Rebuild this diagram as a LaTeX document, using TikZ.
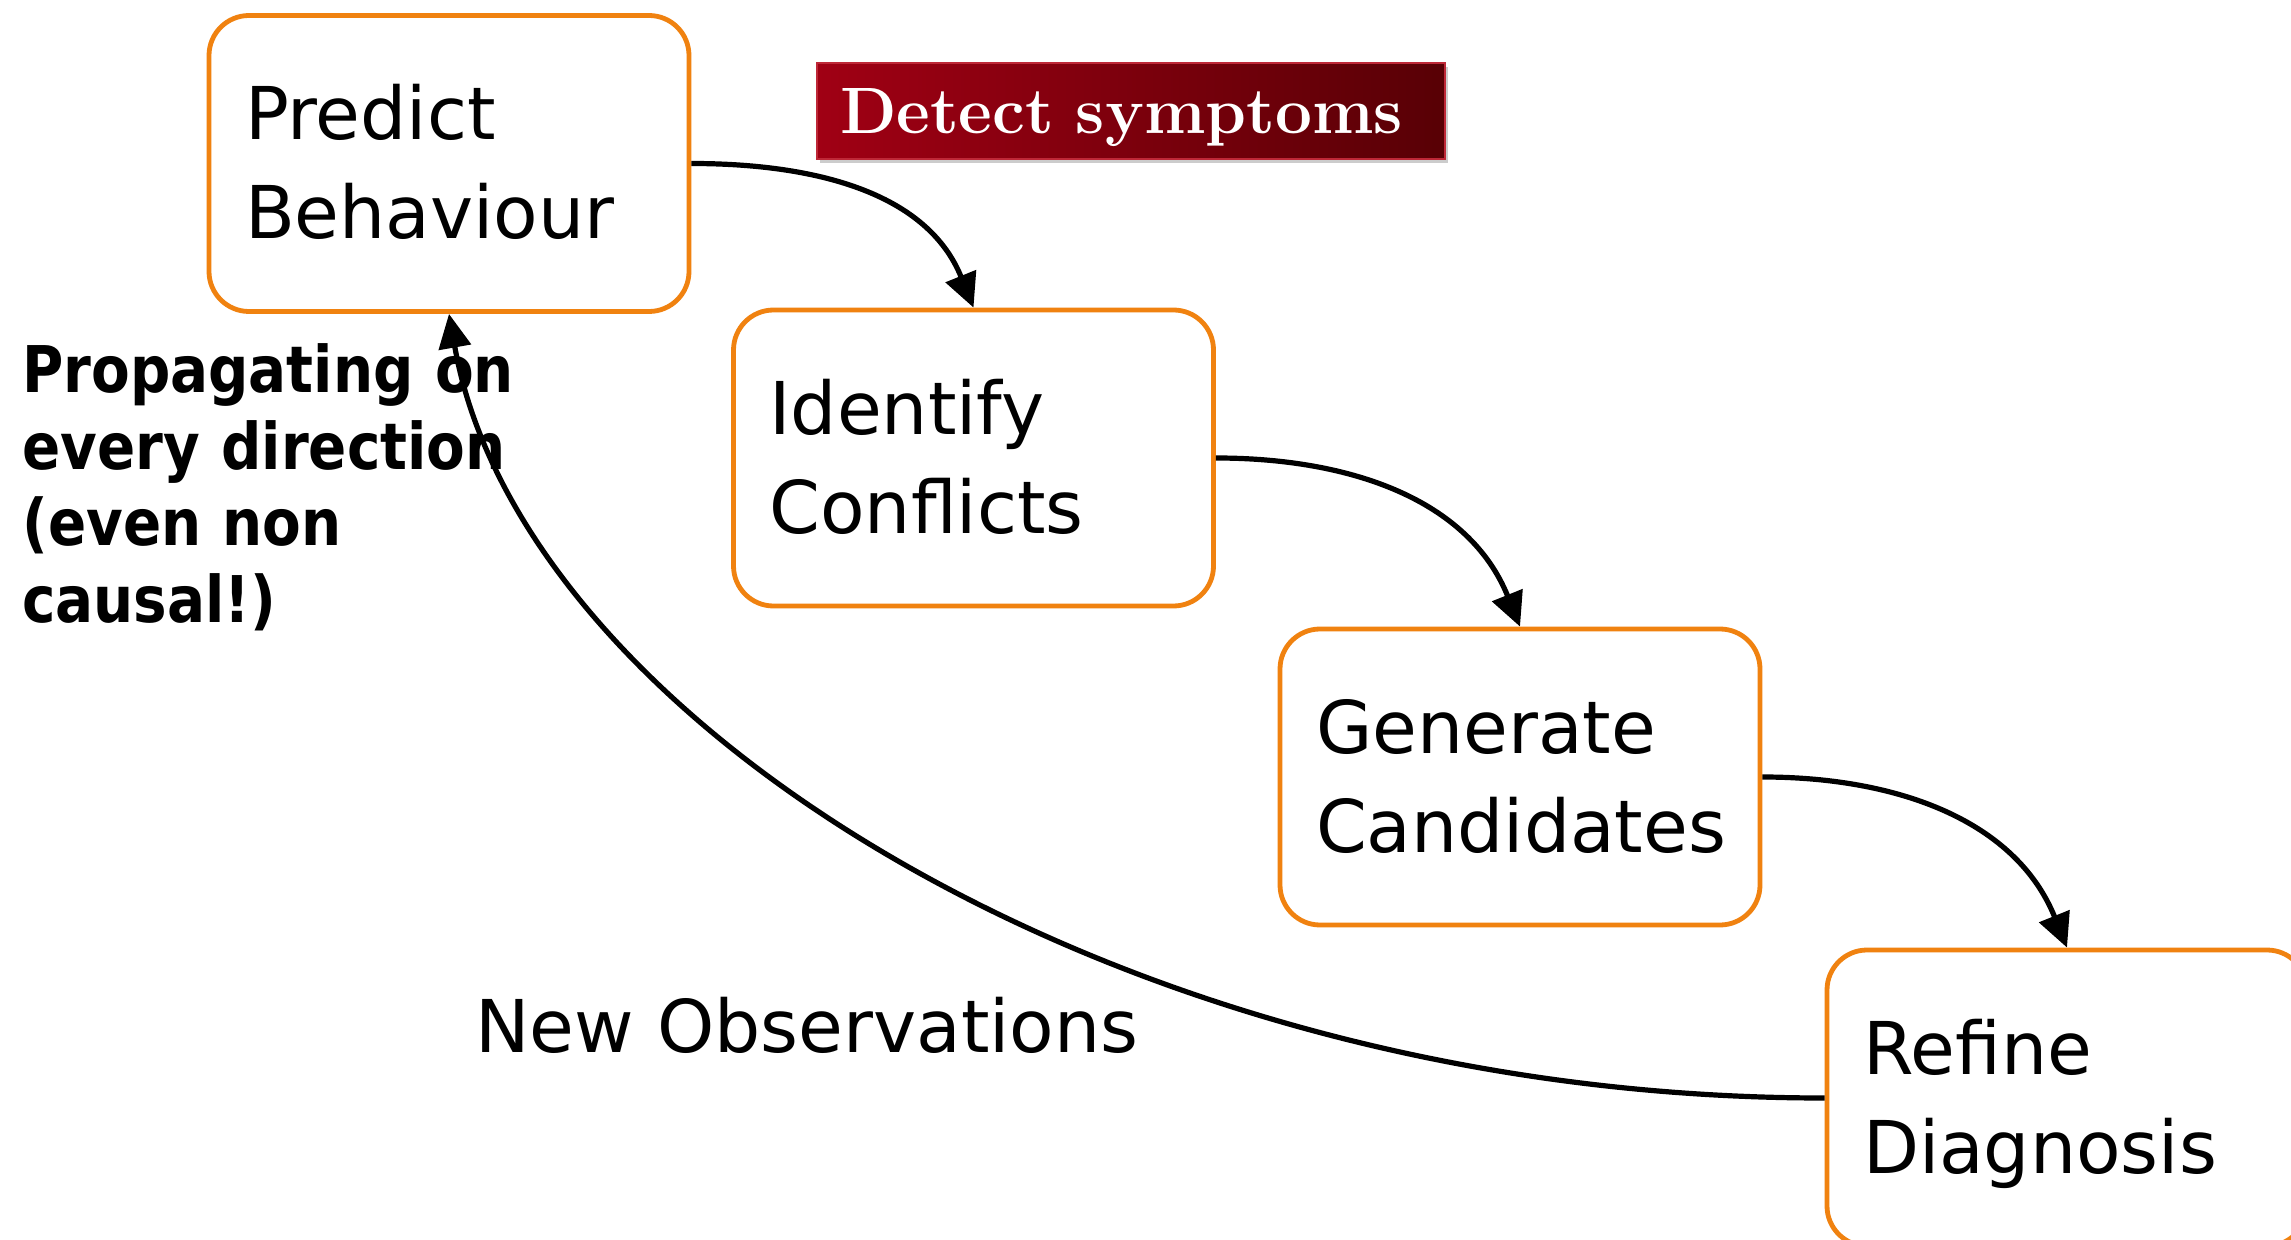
\documentclass[tikz,border=0pt]{standalone}
\usepackage{fontspec}
\newfontfamily\stepfont{DejaVu Sans}
\newfontfamily\notefont[FakeStretch=0.875]{DejaVu Sans}
\usetikzlibrary{arrows.meta,shadows}

\definecolor{boxorange}{RGB}{240,130,16}
\definecolor{tagred}{RGB}{160,0,20}
\definecolor{tagdark}{RGB}{88,0,5}
\definecolor{tagrim}{RGB}{190,40,55}

\tikzset{
	stepbox/.style={draw=boxorange, line width=2.4pt, rounded corners=20pt, fill=white,
		minimum width=240pt, minimum height=148pt, inner sep=0pt,
		text width=204pt, align=left, text height=26pt, text depth=49.5pt,
		font=\stepfont\fontsize{36.4}{49.5}\selectfont},
	tagbox/.style={draw=tagrim, line width=0.6pt, left color=tagred, right color=tagdark,
		drop shadow={shadow xshift=1.5pt, shadow yshift=-2pt, opacity=0.4},
		minimum width=314pt, minimum height=48pt, inner xsep=11.5pt, inner ysep=0pt,
		text width=291pt, align=left, text height=22.5pt, text depth=0pt,
		text=white, font=\fontsize{32.8}{36}\selectfont\bfseries},
	flow/.style={-{Triangle[length=17pt,width=16pt]}, line width=2.6pt},
}

\begin{document}
\begin{tikzpicture}[x=0.5pt, y=0.5pt]
	\fill[white] (0,0) rectangle (2291,-1240);
	\useasboundingbox (0,0) rectangle (2291,-1240);

	% the four steps of the loop
	\node[stepbox] (predict)  at (449,-163.5) {Predict\\Behaviour};
	\node[stepbox] (identify) at (973.5,-458) {Identify\\Conflicts};
	\node[stepbox] (generate) at (1520,-777) {Generate\\Candidates};
	\node[stepbox] (refine)   at (2067,-1098) {Refine\\Diagnosis};

	\node[tagbox] (symptoms) at (1131,-111) {Detect symptoms};

	\node[anchor=base west, inner sep=0pt, font=\stepfont\fontsize{36.4}{49.5}\selectfont]
		(newobs) at (475,-1052) {New Observations};
	\node[anchor=base west, inner sep=0pt, text width=270pt, align=left,
		font=\notefont\bfseries\fontsize{32.2}{38.25}\selectfont]
		(propagate) at (22,-393) {Propagating on\\every direction\\(even non\\causal!)};

	\draw[flow] (predict.east) to[out=0, in=112] (identify.north);
	\draw[flow] (identify.east) to[out=0, in=112] (generate.north);
	\draw[flow] (generate.east) to[out=0, in=112] (refine.north);
	% back to the start
	\draw[flow] (refine.west) to[out=180, in=-80, out looseness=1.15, in looseness=0.66] (predict.south);
\end{tikzpicture}
\end{document}
